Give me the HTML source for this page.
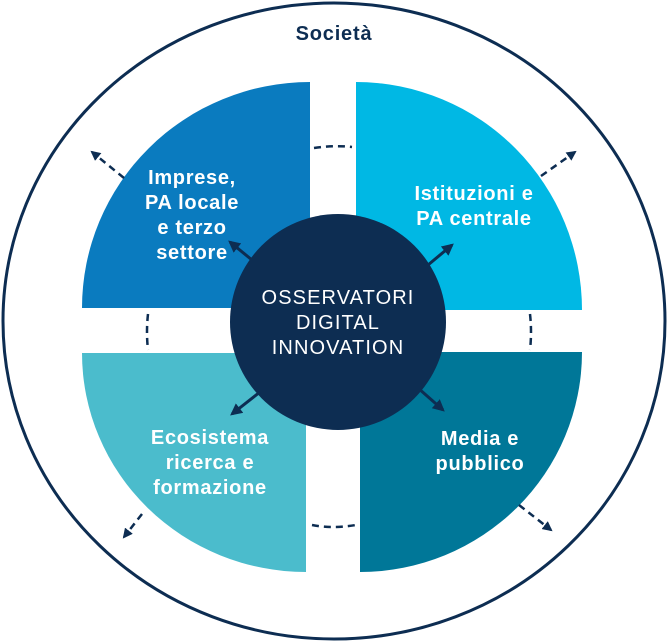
<!DOCTYPE html>
<html><head><meta charset="utf-8"><style>
html,body{margin:0;padding:0;background:#fff;}
svg{display:block;}
text{font-family:"Liberation Sans",sans-serif;}
</style></head><body>
<svg width="668" height="641" viewBox="0 0 668 641">
<defs>
<marker id="ah" viewBox="0 0 10 10" refX="8" refY="5" markerWidth="4" markerHeight="4" orient="auto"><path d="M0,0 L10,5 L0,10 z" fill="#0d2d52"/></marker>
</defs>
<ellipse cx="334" cy="321" rx="331" ry="318" fill="none" stroke="#0d2d52" stroke-width="3"/>
<text x="334" y="40" text-anchor="middle" font-size="20" font-weight="bold" letter-spacing="0.8" fill="#0d2d52">Società</text>
<path d="M310,82 L310,308 L82,308 A228,226 0 0 1 310,82 Z" fill="#0a7bbf"/>
<path d="M356,82 L356,310 L582,310 A226,228 0 0 0 356,82 Z" fill="#00b8e4"/>
<path d="M306,353 L82,353 A224,219 0 0 0 306,572 Z" fill="#4bbccc"/>
<path d="M360,352 L582,352 A222,220 0 0 1 360,572 Z" fill="#007798"/>
<g fill="none" stroke="#0d2d52" stroke-width="2.5" stroke-dasharray="7,5">
<path d="M314,148 Q334,145 352,147"/>
<path d="M148,314 Q146,332 148,350"/>
<path d="M530,314 Q532,332 530,350"/>
<path d="M312,525 Q332,529 356,525"/>
<path d="M124,178 L92,152" marker-end="url(#ah)"/>
<path d="M541,176 L575,152" marker-end="url(#ah)"/>
<path d="M142,514 L124,537" marker-end="url(#ah)"/>
<path d="M519,505 L551,530" marker-end="url(#ah)"/>
</g>
<circle cx="338" cy="322" r="108" fill="#0d2d52"/>
<g stroke="#0d2d52" stroke-width="3" fill="none">
<path d="M252,260 L230,242" marker-end="url(#ah)"/>
<path d="M428,265 L452,245" marker-end="url(#ah)"/>
<path d="M260,392 L232,414" marker-end="url(#ah)"/>
<path d="M418,388 L443,410" marker-end="url(#ah)"/>
</g>
<g fill="#fff" font-size="20" text-anchor="middle" letter-spacing="1.1">
<text x="338" y="304">OSSERVATORI</text>
<text x="338" y="329">DIGITAL</text>
<text x="338" y="354">INNOVATION</text>
</g>
<g fill="#fff" font-size="20" font-weight="bold" text-anchor="middle" letter-spacing="0.7">
<text x="192" y="184">Imprese,</text>
<text x="192" y="209">PA locale</text>
<text x="192" y="234">e terzo</text>
<text x="192" y="259">settore</text>
<text x="474" y="200">Istituzioni e</text>
<text x="474" y="225">PA centrale</text>
<text x="210" y="444">Ecosistema</text>
<text x="210" y="469">ricerca e</text>
<text x="210" y="494">formazione</text>
<text x="480" y="445">Media e</text>
<text x="480" y="470">pubblico</text>
</g>
</svg>
</body></html>
